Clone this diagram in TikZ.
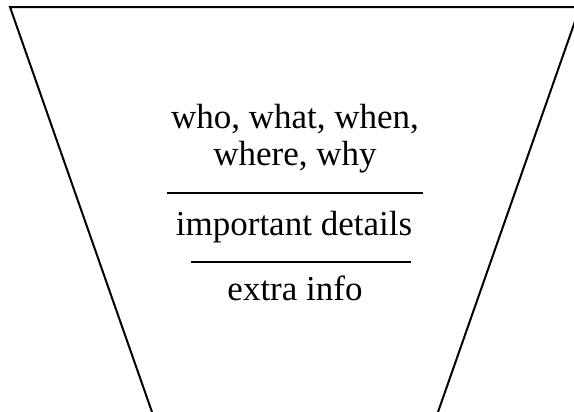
\documentclass[tikz,border=0pt]{standalone}
\usepackage{fontspec}
\setmainfont{Liberation Serif}
\begin{document}
\begin{tikzpicture}[x=1bp,y=-1bp,
  edge/.style={line width=2bp,line cap=butt},
  rule/.style={line width=2bp},
  label/.style={anchor=base,inner sep=0pt,font=\fontsize{35bp}{42bp}\selectfont}]
\useasboundingbox (0,0) rectangle (574,411);
\clip (0,0) rectangle (574,411);
\coordinate (tl) at (10,7);
\coordinate (tr) at (580,7);
\coordinate (bl) at (152,412);
\coordinate (br) at (438,412);
\draw[edge,line join=miter] (bl) -- (tl) -- (tr) -- (br);
\node[label] (t1) at (295,128) {who, what, when,};
\node[label] (t2) at (295,165) {where, why};
\coordinate (s1a) at (167,193);
\coordinate (s1b) at (423,193);
\draw[rule] (s1a) -- (s1b);
\node[label] (t3) at (294,235) {important details};
\coordinate (s2a) at (191,262);
\coordinate (s2b) at (411,262);
\draw[rule] (s2a) -- (s2b);
\node[label] (t4) at (295,300) {extra info};
\end{tikzpicture}
\end{document}
